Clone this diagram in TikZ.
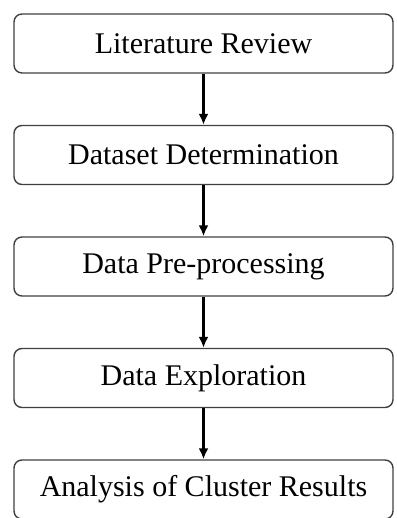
\documentclass[tikz,border=0pt]{standalone}
\usepackage{fontspec}
\setmainfont{Liberation Serif}
\usetikzlibrary{arrows.meta}

\tikzset{
  stepbox/.style={draw=black!75, line width=1.4pt, rounded corners=8pt,
    minimum width=379pt, minimum height=59pt, inner sep=0pt,
    font=\fontsize{30}{35}\selectfont},
  flow/.style={line width=2.6pt, -{Latex[length=11pt,width=10pt]}}
}

\begin{document}
\begin{tikzpicture}[x=1pt,y=1pt]
\useasboundingbox (0,0) rectangle (396,518);
\node[stepbox] (lit) at (203.5,474.5) {Literature Review};
\node[stepbox] (dset) at (203.5,363) {Dataset Determination};
\node[stepbox] (prep) at (203.5,251.5) {Data Pre-processing};
\node[stepbox] (expl) at (203.5,140) {Data Exploration};
\node[stepbox] (anal) at (203.5,28.5) {Analysis of Cluster Results};

\draw[flow] (lit) -- (dset);
\draw[flow] (dset) -- (prep);
\draw[flow] (prep) -- (expl);
\draw[flow] (expl) -- (anal);

\end{tikzpicture}
\end{document}
